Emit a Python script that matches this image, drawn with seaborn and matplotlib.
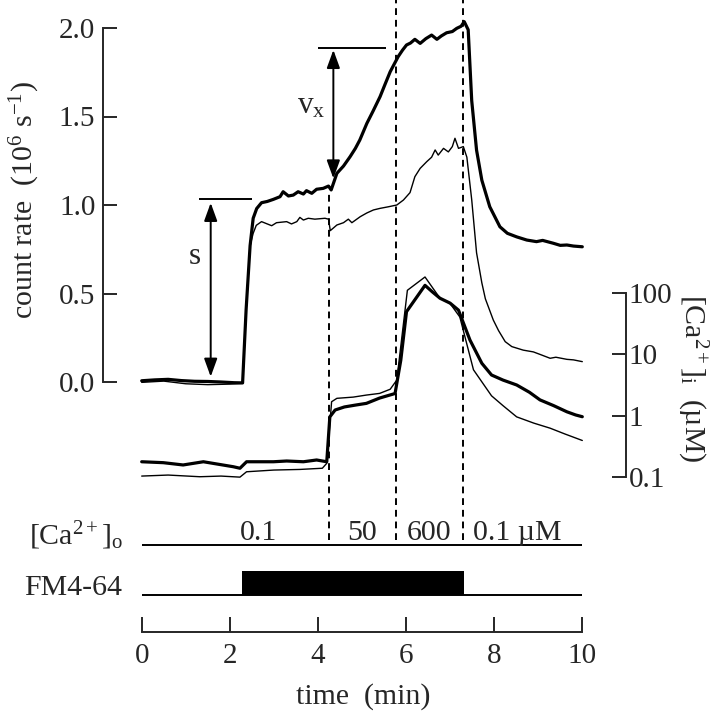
import matplotlib
matplotlib.use("Agg")
import matplotlib.pyplot as plt
from matplotlib.ticker import FormatStrFormatter, NullLocator
import seaborn as sns

# count rate (10^6 s^-1) vs time (min)
cr_thick_t = [0.0, 0.3, 0.6, 0.9, 1.2, 1.5, 1.8, 2.1, 2.29, 2.37, 2.46, 2.53, 2.61, 2.72,
              2.85, 2.99, 3.14, 3.21, 3.33, 3.44, 3.55, 3.67, 3.74, 3.86, 3.97, 4.12, 4.24,
              4.3, 4.43, 4.58, 4.73, 4.85, 4.95, 5.11, 5.25, 5.41, 5.52, 5.64, 5.82, 5.92,
              6.01, 6.1, 6.2, 6.32, 6.45, 6.58, 6.7, 6.8, 6.92, 7.05, 7.15, 7.25, 7.32,
              7.41, 7.49, 7.6, 7.72, 7.9, 8.13, 8.3, 8.51, 8.74, 8.96, 9.1, 9.34, 9.5,
              9.65, 9.8, 10.0]
cr_thick = [0.007, 0.012, 0.015, 0.008, 0.004, 0.003, 0.0, -0.004, -0.005, 0.41, 0.77,
            0.925, 0.98, 1.013, 1.02, 1.032, 1.047, 1.075, 1.051, 1.056, 1.075, 1.062,
            1.081, 1.066, 1.089, 1.094, 1.107, 1.085, 1.179, 1.22, 1.273, 1.32, 1.367,
            1.461, 1.53, 1.612, 1.68, 1.753, 1.838, 1.875, 1.904, 1.915, 1.936, 1.913,
            1.94, 1.96, 1.936, 1.955, 1.973, 1.98, 1.998, 2.01, 2.036, 1.99, 1.59, 1.31,
            1.14, 0.99, 0.877, 0.84, 0.82, 0.802, 0.793, 0.80, 0.784, 0.772, 0.774,
            0.768, 0.764]
cr_thin_t = [0.0, 0.5, 1.0, 1.5, 2.0, 2.29, 2.37, 2.46, 2.53, 2.6, 2.72, 2.95, 3.06, 3.29,
             3.4, 3.52, 3.59, 3.67, 3.78, 3.93, 4.16, 4.24, 4.28, 4.43, 4.58, 4.69, 4.77,
             4.96, 5.11, 5.26, 5.41, 5.6, 5.79, 5.94, 6.09, 6.2, 6.32, 6.47, 6.58, 6.66,
             6.73, 6.85, 6.96, 7.05, 7.11, 7.19, 7.3, 7.38, 7.49, 7.6, 7.72, 7.8, 7.98,
             8.1, 8.25, 8.4, 8.66, 8.89, 9.05, 9.27, 9.4, 9.65, 9.8, 10.0]
cr_thin = [-0.002, 0.005, -0.01, -0.015, -0.012, -0.008, 0.41, 0.77, 0.84, 0.885, 0.906,
           0.883, 0.9, 0.906, 0.893, 0.906, 0.93, 0.915, 0.925, 0.92, 0.925, 0.92, 0.855,
           0.887, 0.9, 0.92, 0.9, 0.934, 0.955, 0.972, 0.981, 0.99, 1.0, 1.028, 1.07,
           1.16, 1.207, 1.245, 1.27, 1.311, 1.282, 1.32, 1.30, 1.33, 1.377, 1.32, 1.33,
           1.27, 1.03, 0.73, 0.56, 0.47, 0.35, 0.29, 0.228, 0.2, 0.18, 0.17, 0.155,
           0.134, 0.14, 0.128, 0.125, 0.115]

# [Ca2+]i (uM)
ca_thick_t = [0.0, 0.49, 0.94, 1.4, 2.08, 2.23, 2.38, 2.99, 3.29, 3.67, 3.97, 4.2, 4.27,
              4.39, 4.6, 4.85, 5.1, 5.4, 5.75, 5.88, 6.01, 6.43, 6.6, 6.77, 7.0, 7.19,
              7.45, 7.72, 7.94, 8.2, 8.51, 8.8, 9.04, 9.35, 9.65, 9.85, 10.0]
ca_thick = [0.175, 0.169, 0.155, 0.175, 0.145, 0.137, 0.175, 0.175, 0.18, 0.175, 0.187,
            0.175, 0.95, 1.23, 1.38, 1.48, 1.58, 1.93, 2.29, 8.0, 50, 135, 105, 83, 69,
            53, 17.2, 7.15, 4.6, 3.8, 3.16, 2.4, 1.8, 1.45, 1.15, 1.02, 0.955]
ca_thin_t = [0.0, 0.6, 1.32, 1.8, 2.23, 2.38, 3.0, 3.59, 4.1, 4.2, 4.31, 4.43, 4.8, 5.1,
             5.4, 5.64, 5.79, 6.03, 6.43, 6.77, 7.0, 7.22, 7.53, 7.94, 8.2, 8.51, 8.9,
             9.27, 9.6, 10.0]
ca_thin = [0.102, 0.106, 0.0995, 0.102, 0.098, 0.12, 0.128, 0.131, 0.137, 0.165, 1.68,
           1.91, 2.0, 2.16, 2.3, 2.69, 3.8, 112, 185, 83, 68, 41, 5.6, 2.1, 1.45, 0.95,
           0.75, 0.62, 0.5, 0.39]

# protocol
ca_o_steps = [4.24, 5.77, 7.30]
ca_o_labels = ["0.1", "50", "600", "0.1 µM"]
ca_o_label_t = [2.65, 5.0, 6.53, 8.53]
fm_on, fm_off = 2.28, 7.32

count_ticks = [0.0, 0.5, 1.0, 1.5, 2.0]
ca_ticks = [0.1, 1, 10, 100]
ca_ticklabels = ["0.1", "1", "10", "100"]
time_ticks = [0, 2, 4, 6, 8, 10]

sns.set_style("ticks")
plt.rcParams['font.family'] = ['Liberation Serif', 'DejaVu Serif']
plt.rcParams['mathtext.fontset'] = 'custom'
plt.rcParams['mathtext.rm'] = 'Liberation Serif'
plt.rcParams['mathtext.it'] = 'Liberation Serif:italic'
plt.rcParams['axes.linewidth'] = 1.4

W, H = 720, 716
FS = 21.5
TFS = 21
fig = plt.figure(figsize=(W / 100, H / 100), dpi=100)

# pixel layout of the original
x0, x1 = 103, 626
t0px, t10px = 141.7, 582.3
ppm = (t10px - t0px) / 10.0
xlim = ((x0 - t0px) / ppm, (x1 - t0px) / ppm)
ybot = 540

ax = fig.add_axes([x0 / W, 1 - ybot / H, (x1 - x0) / W, ybot / H])
ax.patch.set_alpha(0)
sns.lineplot(x=cr_thick_t, y=cr_thick, ax=ax, color='k', lw=2.3, estimator=None, sort=False)
sns.lineplot(x=cr_thin_t, y=cr_thin, ax=ax, color='k', lw=1.0, estimator=None, sort=False)
ax.set_xlim(xlim)
ax.set_ylim((382 - ybot) / 177.0, 382 / 177.0)
ax.set_xticks([])
ax.set_yticks(count_ticks)
ax.yaxis.set_major_formatter(FormatStrFormatter('%.1f'))
ax.tick_params(axis='y', direction='in', length=10, width=1.4, labelsize=TFS, pad=5.5)
for s in ['top', 'right', 'bottom']:
    ax.spines[s].set_visible(False)
ax.spines['left'].set_bounds(0, 2)

ax2 = ax.twinx()
ax2.set_yscale('log')
sns.lineplot(x=ca_thick_t, y=ca_thick, ax=ax2, color='k', lw=2.3, estimator=None, sort=False)
sns.lineplot(x=ca_thin_t, y=ca_thin, ax=ax2, color='k', lw=1.0, estimator=None, sort=False)
ax2.set_xlim(xlim)
ax2.set_ylim(10 ** ((415.5 - ybot) / 61.1), 10 ** (415.5 / 61.1))
ax2.set_yticks(ca_ticks)
ax2.set_yticklabels(ca_ticklabels)
ax2.yaxis.set_minor_locator(NullLocator())
ax2.tick_params(axis='y', direction='in', length=10, width=1.4, labelsize=TFS, pad=2)
for s in ['top', 'left', 'bottom']:
    ax2.spines[s].set_visible(False)
ax2.spines['right'].set_bounds(0.1, 100)
ax2.set_ylabel('')

# solution changes
dash = (0, (3.5, 2.5))
ax.vlines(ca_o_steps[0], ax.get_ylim()[0], 1.075, color='k', lw=1.4, linestyles=[dash])
for t in ca_o_steps[1:]:
    ax.axvline(t, color='k', lw=1.4, linestyle=dash)

# s and v_x markers
arrow = dict(arrowstyle='<|-|>,head_length=0.55,head_width=0.2', color='k', lw=1.4,
             shrinkA=0, shrinkB=0, mutation_scale=20)
ax.hlines(1.032, 1.29, 2.51, color='k', lw=1.4)
ax.annotate('', xy=(1.566, 0.03), xytext=(1.566, 1.012), arrowprops=arrow)
ax.text(1.21, 0.71, 's', fontsize=FS + 1, ha='center', va='center')
ax.hlines(1.885, 4.01, 5.54, color='k', lw=1.4)
ax.annotate('', xy=(4.35, 1.15), xytext=(4.35, 1.876), arrowprops=arrow)
ax.text(3.84, 1.56, r'v$_{\mathregular{x}}$', fontsize=FS + 1, ha='center', va='center')

# protocol panel with time axis
yb = 631.7
hb = yb - 500
axb = fig.add_axes([x0 / W, 1 - yb / H, (x1 - x0) / W, hb / H])
axb.patch.set_alpha(0)
axb.set_xlim(xlim)
axb.set_ylim(0, 1)
ca_o_y = (yb - 545) / hb
fm_y = (yb - 595) / hb
fm_top = (yb - 570.7) / hb
axb.hlines([ca_o_y, fm_y], 0, 10, color='k', lw=1.4)
axb.fill_between([fm_on, fm_off], fm_y, fm_top, color='k', lw=0)
for t, lab in zip(ca_o_label_t, ca_o_labels):
    axb.text(t, (yb - 540) / hb, lab, fontsize=FS, ha='center', va='baseline')
axb.text(-0.43, ca_o_y, r'[Ca$^{\mathregular{2+}}$]$_{\mathregular{o}}$', fontsize=FS,
         ha='right', va='baseline')
axb.text(-0.45, fm_y, 'FM4-64', fontsize=FS, ha='right', va='baseline')
axb.set_yticks([])
axb.set_xticks(time_ticks)
axb.tick_params(axis='x', direction='in', length=10.5, width=1.4, labelsize=TFS, pad=8)
for s in ['top', 'left', 'right']:
    axb.spines[s].set_visible(False)
axb.spines['bottom'].set_bounds(0, 10)

fig.text(25 / W, 1 - 200 / H, r'count rate  (10$^{\mathregular{6}}$ s$^{\mathregular{-1}}$)',
         rotation=90, ha='center', va='center', fontsize=FS)
fig.text(692 / W, 1 - 378 / H, r'[Ca$^{\mathregular{2+}}$]$_{\mathregular{i}}$  (µM)',
         rotation=270, ha='center', va='center', fontsize=FS)
fig.text(363 / W, 1 - 697 / H, 'time  (min)', ha='center', va='center', fontsize=FS)

fig.savefig('out.png', dpi=100)
